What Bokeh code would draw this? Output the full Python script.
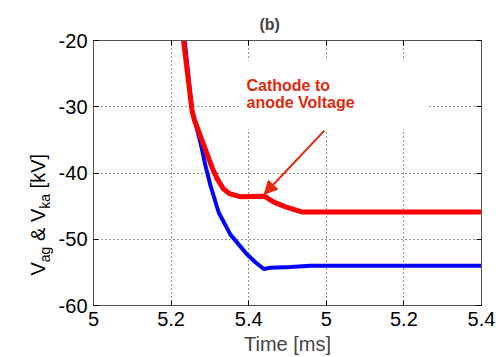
import math
from bokeh.plotting import figure
from bokeh.layouts import row
from bokeh.models import (LinearAxis, FixedTicker, Label, Arrow, NormalHead,
                          BoxAnnotation, Range1d)
from bokeh.embed import file_html
from bokeh.resources import INLINE

# ---- data ----
# cathode-to-anode voltage V_ka (red)
t_ka = [5.232, 5.254, 5.260, 5.280, 5.302, 5.310, 5.320, 5.335, 5.350,
        5.380, 5.440, 5.465, 5.499, 5.538, 6.0]
v_ka = [-20.0, -30.6, -32.0, -35.1, -38.6, -39.8, -41.0, -42.4, -43.1,
        -43.6, -43.5, -44.4, -45.2, -45.9, -45.9]
# V_ag (blue)
t_ag = [5.235, 5.254, 5.263, 5.276, 5.289, 5.302, 5.323, 5.353, 5.396,
        5.418, 5.439, 5.456, 5.508, 5.559, 6.0]
v_ag = [-20.0, -30.6, -32.5, -35.5, -39.0, -42.0, -46.0, -49.3, -52.3,
        -53.5, -54.5, -54.3, -54.2, -54.0, -54.0]

x_ticks = [5.0, 5.2, 5.4, 5.6, 5.8, 6.0]
x_tick_labels = ["5", "5.2", "5.4", "5", "5.2", "5.4"]
y_ticks = [-60, -50, -40, -30, -20]
y_tick_labels = ["-60", "-50", "-40", "-30", "-20"]

title_text = "(b)"
x_label = "Time [ms]"
annot_lines = ["Cathode to", "anode Voltage"]
arrow_tail = (5.595, -33.6)
arrow_tip = (5.440, -43.2)

FONT = "Liberation Sans"
RED = "#ff0000"
BLUE = "#0000ff"
ANNOT = "#dd2a0e"

LEFT_W = 53
TOTAL_H = 357

p = figure(frame_width=388, frame_height=265,
           x_range=Range1d(5.0, 6.0), y_range=Range1d(-60, -20),
           output_backend="svg", toolbar_location=None,
           min_border_left=93 - LEFT_W, min_border_right=23,
           min_border_top=40, min_border_bottom=52,
           background_fill_color="white", border_fill_color="white")
p.outline_line_color = "black"
p.outline_line_width = 1


def style_axis(ax, ticks, labels, show_labels=True):
    ax.ticker = FixedTicker(ticks=ticks, minor_ticks=[])
    ax.major_label_overrides = {t: l for t, l in zip(ticks, labels)}
    ax.major_tick_in = 5
    ax.major_tick_out = 0
    ax.minor_tick_in = 0
    ax.minor_tick_out = 0
    ax.major_tick_line_color = "black"
    ax.axis_line_color = "#555555"
    ax.major_label_text_font = FONT
    ax.major_label_text_font_size = "20px" if show_labels else "0px"
    ax.major_label_text_color = "black" if show_labels else None
    if not show_labels:
        ax.major_label_standoff = 0


style_axis(p.xaxis[0], x_ticks, x_tick_labels)
p.xaxis[0].major_label_standoff = 6
p.xaxis[0].axis_label = x_label
p.xaxis[0].axis_label_text_font = FONT
p.xaxis[0].axis_label_text_font_size = "20px"
p.xaxis[0].axis_label_text_font_style = "normal"
p.xaxis[0].axis_label_standoff = 4

style_axis(p.yaxis[0], y_ticks, y_tick_labels)
p.yaxis[0].major_label_standoff = 6

top_ax = LinearAxis()
style_axis(top_ax, x_ticks, x_tick_labels, show_labels=False)
p.add_layout(top_ax, "above")
right_ax = LinearAxis()
style_axis(right_ax, y_ticks, y_tick_labels, show_labels=False)
p.add_layout(right_ax, "right")

for g in (p.xgrid[0], p.ygrid[0]):
    g.grid_line_color = "black"
    g.grid_line_dash = "1 3"
    g.grid_line_width = 1
    g.grid_line_alpha = 0.85
p.xgrid[0].ticker = FixedTicker(ticks=x_ticks, minor_ticks=[])
p.ygrid[0].ticker = FixedTicker(ticks=y_ticks, minor_ticks=[])

# title
p.title.text = title_text
p.title.text_font = FONT
p.title.text_font_size = "16px"
p.title.text_font_style = "bold"
p.title.align = "left"
p.title.offset = 166
p.title.standoff = 16

# white background behind the annotation text (hides the grid there)
p.add_layout(BoxAnnotation(left=5.374, right=5.861, top=-23.0, bottom=-33.4,
                           fill_color="white", fill_alpha=1.0,
                           line_alpha=0, level="underlay"))

p.line(t_ag, v_ag, line_color=BLUE, line_width=4)
p.line(t_ka, v_ka, line_color=RED, line_width=5)

# annotation text and arrow
p.add_layout(Label(x=153, y=220, x_units="screen", y_units="screen",
                   text=annot_lines[0], text_font=FONT, text_font_size="16px",
                   text_font_style="bold", text_color=ANNOT,
                   text_align="left", text_baseline="alphabetic"))
p.add_layout(Label(x=153, y=203.5, x_units="screen", y_units="screen",
                   text=annot_lines[1], text_font=FONT, text_font_size="16px",
                   text_font_style="bold", text_color=ANNOT,
                   text_align="left", text_baseline="alphabetic"))
p.add_layout(Arrow(end=NormalHead(size=13, fill_color=ANNOT, line_color=ANNOT),
                   x_start=arrow_tail[0], y_start=arrow_tail[1],
                   x_end=arrow_tip[0], y_end=arrow_tip[1],
                   line_color=ANNOT, line_width=2))

# narrow panel on the left carrying the y-axis label with subscripts
lab = figure(frame_width=LEFT_W, frame_height=TOTAL_H,
             x_range=Range1d(0, LEFT_W), y_range=Range1d(0, TOTAL_H),
             output_backend="svg", toolbar_location=None,
             x_axis_location=None, y_axis_location=None,
             min_border=0, min_border_left=0, min_border_right=0,
             min_border_top=0, min_border_bottom=0,
             background_fill_color="white", border_fill_color="white")
lab.outline_line_color = None
lab.grid.visible = False

ylabel_parts = [("V", 122.0, False), ("ag", 135.3, True), ("& V", 156.5, False),
                ("ka", 188.7, True), ("[kV]", 209.1, False)]
for txt, sy, sub in ylabel_parts:
    lab.add_layout(Label(x=44 if sub else 37, y=sy, x_units="screen", y_units="screen",
                         text=txt, angle=math.pi / 2, text_font=FONT,
                         text_font_size="14px" if sub else "20px",
                         text_color="black", text_align="left",
                         text_baseline="alphabetic"))

layout = row(lab, p, spacing=0)
open("out.html", "w").write(file_html(layout, INLINE))
